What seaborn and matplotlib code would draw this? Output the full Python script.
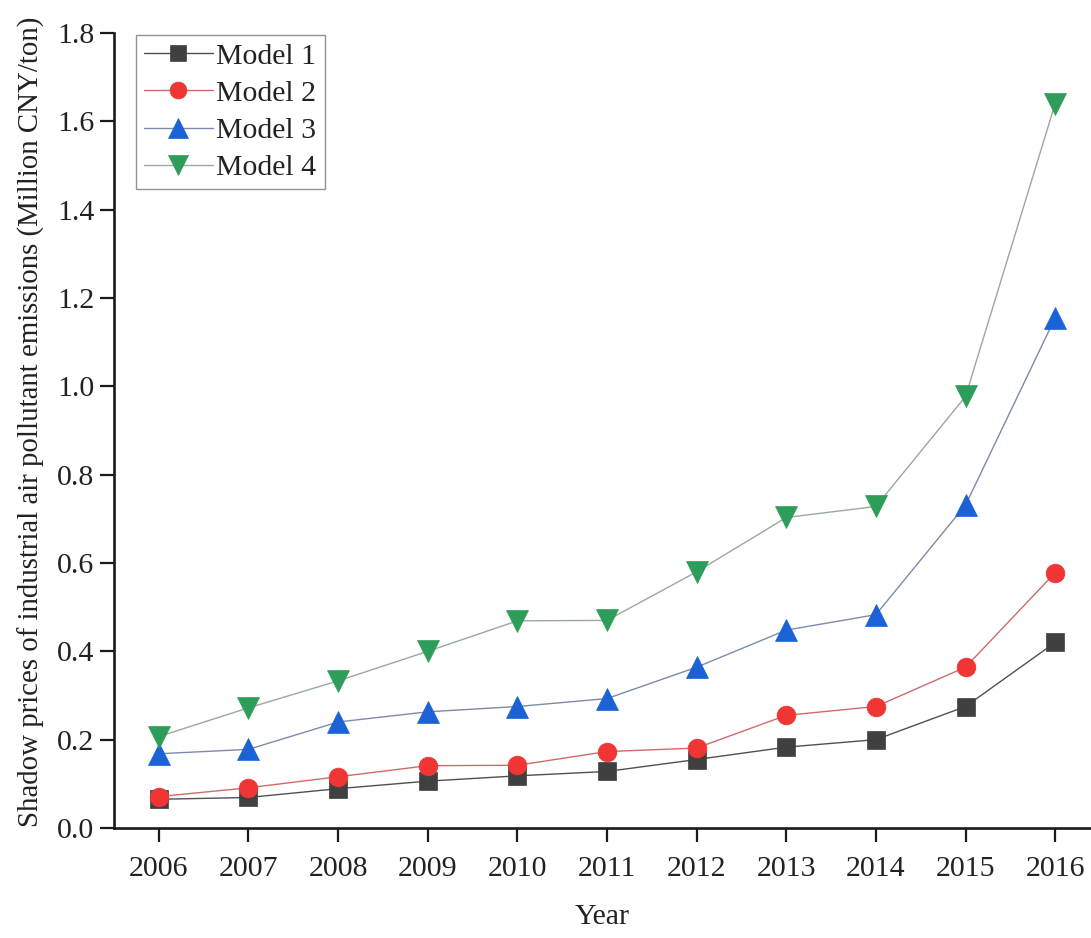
import matplotlib
matplotlib.use("Agg")
import matplotlib.pyplot as plt
import seaborn as sns
import pandas as pd

years = [2006, 2007, 2008, 2009, 2010, 2011, 2012, 2013, 2014, 2015, 2016]
model_1 = [0.065, 0.069, 0.089, 0.106, 0.118, 0.128, 0.155, 0.183, 0.200, 0.275, 0.420]
model_2 = [0.071, 0.091, 0.116, 0.141, 0.142, 0.173, 0.181, 0.255, 0.275, 0.364, 0.578]
model_3 = [0.168, 0.178, 0.240, 0.263, 0.275, 0.293, 0.364, 0.448, 0.483, 0.731, 1.155]
model_4 = [0.207, 0.272, 0.333, 0.400, 0.469, 0.470, 0.580, 0.703, 0.728, 0.977, 1.640]
labels = ["Model 1", "Model 2", "Model 3", "Model 4"]

sns.set_theme(style="ticks")
plt.rcParams["font.family"] = ["Liberation Serif", "DejaVu Serif"]

df = pd.DataFrame({"Year": years * 4,
                   "Value": model_1 + model_2 + model_3 + model_4,
                   "Model": sum([[m] * len(years) for m in labels], [])})

marker_colors = ["#404040", "#f03535", "#1a62d6", "#2f9d5a"]
line_colors = ["#505050", "#d06a6a", "#7d8aa8", "#9aa89e"]
markers = ["s", "o", "^", "v"]
sizes = [12.5, 13.5, 15.5, 15.5]

fig = plt.figure(figsize=(10.91, 9.38), dpi=100)
ax = fig.add_axes([0.1045, 0.1173, 0.8955, 0.8475])

for lab, mc, lc, mk, ms in zip(labels, marker_colors, line_colors, markers, sizes):
    sub = df[df["Model"] == lab]
    sns.lineplot(data=sub, x="Year", y="Value", ax=ax, color=lc, lw=1.0,
                 marker=mk, markersize=ms, markerfacecolor=mc,
                 markeredgecolor=mc, markeredgewidth=0.5, label=lab,
                 errorbar=None)

ax.set_xlim(2005.5, 2016.4)
ax.set_ylim(0, 1.8)
ax.set_xticks(years)
ax.set_xticklabels([str(y) for y in years])
ax.set_yticks([i * 0.2 for i in range(10)])
ax.set_yticklabels([f"{i * 0.2:.1f}" for i in range(10)])

for side in ["top", "right"]:
    ax.spines[side].set_visible(False)
for side in ["left", "bottom"]:
    ax.spines[side].set_linewidth(1.9)
    ax.spines[side].set_color("#1a1a1a")

ax.tick_params(axis="both", direction="out", length=10, width=1.6,
               colors="#1a1a1a", labelsize=21.5, labelcolor="#222222")
ax.tick_params(axis="x", pad=10)
ax.tick_params(axis="y", pad=4)

ax.set_xlabel("Year", fontsize=21.5, color="#222222", labelpad=16)
ax.set_ylabel("Shadow prices of industrial air pollutant emissions (Million CNY/ton)",
              fontsize=20.8, color="#222222")
ax.yaxis.set_label_coords(-0.071, 0.511)

leg = ax.legend(loc="upper left", bbox_to_anchor=(0.022, 0.998), fontsize=21.5,
                frameon=True, fancybox=False, handlelength=2.3,
                handletextpad=0.12, labelspacing=0.34, borderpad=0.28,
                borderaxespad=0.0, markerscale=0.9)
leg.get_frame().set_edgecolor("#777777")
leg.get_frame().set_linewidth(1.0)
for t in leg.get_texts():
    t.set_color("#222222")

fig.savefig("out.png", dpi=100)
